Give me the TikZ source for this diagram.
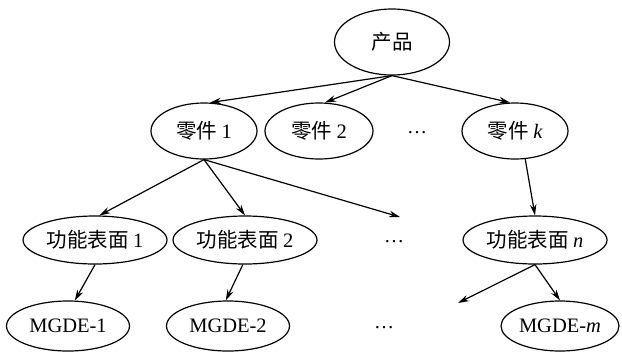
\documentclass[tikz,border=0pt]{standalone}
\usepackage{fontspec}
\setmainfont{Liberation Serif}
\newfontfamily\cjk{Noto Sans CJK SC}
\usetikzlibrary{arrows.meta,shapes.geometric}
\tikzset{
  oval/.style={draw=black, line width=1.2bp, ellipse, inner sep=0pt,
    font=\fontsize{20.5bp}{23bp}\selectfont},
  arr/.style={draw=black, line width=1.2bp, -{Stealth[length=11bp,width=6.5bp]}},
  dots/.style={inner sep=0pt, font=\fontsize{20bp}{22bp}\selectfont}
}
\begin{document}
\begin{tikzpicture}[x=1bp,y=-1bp]
\useasboundingbox (0,0) rectangle (622,353);
% root
\node[oval, minimum width=115bp, minimum height=66bp] (p) at (392,42) {\cjk 产品};
% parts
\node[oval, minimum width=106bp, minimum height=56bp] (c1) at (204,131) {\cjk 零件\ \rmfamily 1};
\node[oval, minimum width=108bp, minimum height=56bp] (c2) at (319,131) {\cjk 零件\ \rmfamily 2};
\node[dots] (cd) at (417,133) {…};
\node[oval, minimum width=106bp, minimum height=56bp] (c3) at (515,131) {\cjk 零件\ \rmfamily\itshape k};
% functional surfaces
\node[oval, minimum width=144bp, minimum height=48bp] (f1) at (95,240) {\cjk 功能表面\ \rmfamily 1};
\node[oval, minimum width=144bp, minimum height=48bp] (f2) at (245,240) {\cjk 功能表面\ \rmfamily 2};
\node[dots] (fd) at (394,242) {…};
\node[oval, minimum width=144bp, minimum height=48bp] (f3) at (535,240) {\cjk 功能表面\ \rmfamily\itshape n};
% MGDE elements
\node[oval, minimum width=123bp, minimum height=50bp] (m1) at (68,326) {MGDE-1};
\node[oval, minimum width=123bp, minimum height=50bp] (m2) at (228,326) {MGDE-2};
\node[dots] (md) at (384,328) {…};
\node[oval, minimum width=118bp, minimum height=50bp] (m3) at (560,326) {MGDE-\textit{m}};
% free ends
\coordinate (e1) at (400,217);
\coordinate (e2) at (458,303);
% connectors
\draw[arr] (p.south) -- (c1.78);
\draw[arr] (p.south) -- (c2.78);
\draw[arr] (p.south) -- (c3.100);
\draw[arr] (c1.south) -- (f1.80);
\draw[arr] (c1.south) -- (f2.north);
\draw[arr] (c1.south) -- (e1);
\draw[arr] (c3.-70) -- (f3.north);
\draw[arr] (f1.south) -- (m1.75);
\draw[arr] (f2.-95) -- (m2.95);
\draw[arr] (f3.south) -- (e2);
\draw[arr] (f3.south) -- (m3.north);
\end{tikzpicture}
\end{document}
